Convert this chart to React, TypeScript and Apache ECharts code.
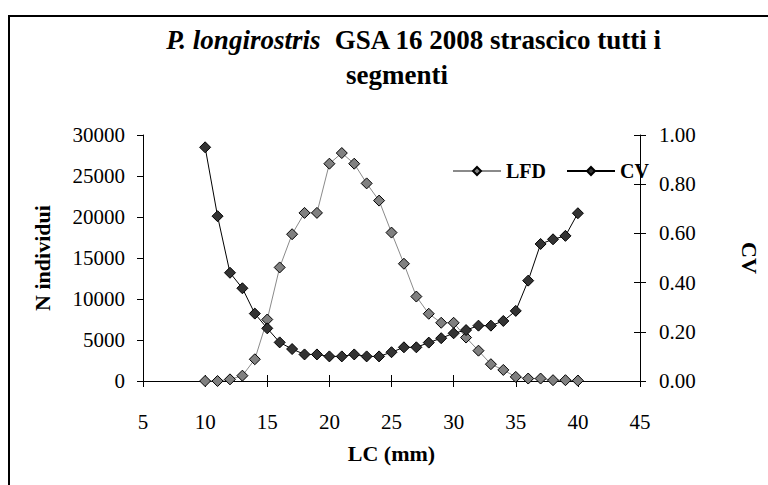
import React, { useEffect, useRef } from "react";
import * as echarts from "echarts";

const lengths = [10, 11, 12, 13, 14, 15, 16, 17, 18, 19, 20, 21, 22, 23, 24, 25, 26, 27, 28, 29, 30, 31, 32, 33, 34, 35, 36, 37, 38, 39, 40];
const lfd = [0, 0, 200, 650, 2650, 7500, 13850, 17900, 20500, 20500, 26500, 27800, 26500, 24100, 22000, 18100, 14300, 10300, 8200, 7100, 7100, 5300, 3700, 2050, 1350, 500, 300, 300, 100, 100, 50];
const cv = [0.95, 0.67, 0.44, 0.377, 0.274, 0.214, 0.157, 0.13, 0.108, 0.108, 0.1, 0.1, 0.108, 0.1, 0.1, 0.117, 0.137, 0.137, 0.156, 0.174, 0.194, 0.207, 0.225, 0.225, 0.244, 0.285, 0.408, 0.557, 0.576, 0.59, 0.682];
const leftTicks = { min: 0, max: 30000, interval: 5000 };
const rightTicks = { min: 0, max: 1, interval: 0.2 };
const xTicks = { min: 5, max: 45, interval: 5 };

const FONT = "'Liberation Serif', 'Times New Roman', serif";

export default function App() {
  const ref = useRef<HTMLDivElement>(null);
  useEffect(() => {
    if (!ref.current) return;
    const chart = echarts.init(ref.current, null, { renderer: "svg" });
    const axisLine = { show: true, lineStyle: { color: "#000", width: 1 } };
    const lbl = { color: "#000", fontFamily: FONT, fontSize: 21 };
    const nameStyle = { fontFamily: FONT, fontWeight: "bold", fontSize: 22, color: "#000" };
    chart.setOption({
      animation: false,
      backgroundColor: "#fff",
      graphic: [
        {
          type: "rect",
          shape: { x: 9, y: 16, width: 800, height: 520 },
          style: { fill: "none", stroke: "#000", lineWidth: 2 },
          silent: true,
        },
      ],
      title: [
        {
          text: "{i|P. longirostris}  GSA 16 2008 strascico tutti i",
          left: 409,
          top: 21,
          textAlign: "center",
          textStyle: {
            fontFamily: FONT,
            fontWeight: "bold",
            fontSize: 27,
            color: "#000",
            rich: {
              i: { fontFamily: FONT, fontStyle: "italic", fontWeight: "bold", fontSize: 27, color: "#000" },
            },
          },
        },
        {
          text: "segmenti",
          left: 392,
          top: 56,
          textAlign: "center",
          textStyle: { fontFamily: FONT, fontWeight: "bold", fontSize: 27, color: "#000" },
        },
      ],
      legend: {
        left: 447,
        top: 156,
        itemWidth: 48,
        itemHeight: 10,
        itemGap: 20,
        textStyle: { fontFamily: FONT, fontWeight: "bold", fontSize: 20, color: "#000" },
        data: ["LFD", "CV"],
      },
      grid: { left: 143, right: 95, top: 135, bottom: 104, containLabel: false },
      xAxis: [
        {
          type: "value",
          ...xTicks,
          name: "LC (mm)",
          nameLocation: "middle",
          nameGap: 61,
          nameTextStyle: nameStyle,
          axisLine,
          axisTick: { show: true, inside: false, length: 6, lineStyle: { color: "#000" } },
          axisLabel: { ...lbl, margin: 30, formatter: (v: number) => String(v) },
          splitLine: { show: false },
        },
        {
          type: "value",
          ...xTicks,
          position: "bottom",
          axisLine: { show: false },
          axisTick: { show: true, inside: true, length: 6, lineStyle: { color: "#000" } },
          axisLabel: { show: false },
          splitLine: { show: false },
        },
      ],
      yAxis: [
        {
          type: "value",
          ...leftTicks,
          name: "N individui",
          nameLocation: "middle",
          nameGap: 90,
          nameTextStyle: nameStyle,
          axisLine,
          axisTick: { show: true, inside: false, length: 6, lineStyle: { color: "#000" } },
          axisLabel: { ...lbl, margin: 18, formatter: (v: number) => String(v) },
          splitLine: { show: false },
        },
        {
          type: "value",
          ...rightTicks,
          position: "right",
          name: "CV",
          nameLocation: "middle",
          nameGap: 98,
          nameRotate: -90,
          nameTextStyle: nameStyle,
          axisLine,
          axisTick: { show: true, inside: false, length: 6, lineStyle: { color: "#000" } },
          axisLabel: { ...lbl, margin: 19, formatter: (v: number) => v.toFixed(2) },
          splitLine: { show: false },
        },
        {
          type: "value",
          ...rightTicks,
          position: "right",
          axisLine: { show: false },
          axisTick: { show: true, inside: true, length: 6, lineStyle: { color: "#000" } },
          axisLabel: { show: false },
          splitLine: { show: false },
        },
      ],
      series: [
        {
          name: "LFD",
          type: "line",
          xAxisIndex: 0,
          yAxisIndex: 0,
          data: lengths.map((l, i) => [l, lfd[i]]),
          symbol: "diamond",
          symbolSize: 11,
          lineStyle: { color: "#8a8a8a", width: 1 },
          itemStyle: { color: "#808080", borderColor: "#000", borderWidth: 1 },
          z: 2,
        },
        {
          name: "CV",
          type: "line",
          xAxisIndex: 0,
          yAxisIndex: 1,
          data: lengths.map((l, i) => [l, cv[i]]),
          symbol: "diamond",
          symbolSize: 11,
          lineStyle: { color: "#000", width: 1 },
          itemStyle: { color: "#333333", borderColor: "#000", borderWidth: 1 },
          z: 3,
        },
      ],
    });
    return () => chart.dispose();
  }, []);
  return (
    <div
      ref={ref}
      style={{ position: "fixed", left: 0, top: 0, width: 768, height: 485 }}
    />
  );
}
